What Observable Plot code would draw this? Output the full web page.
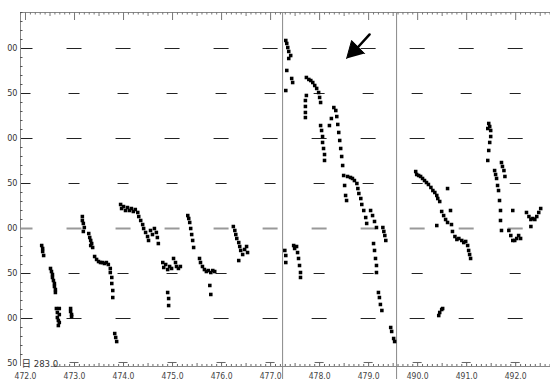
<!DOCTYPE html>
<html><head><meta charset="utf-8">
<script src="https://cdn.jsdelivr.net/npm/d3@7"></script>
<script src="https://cdn.jsdelivr.net/npm/@observablehq/plot@0.6"></script>
<style>body{margin:0;background:#fff;} #chart svg{display:block;}</style>
</head><body><div id="chart"></div>
<script>
const obsPanel1 = [
[472.33,181.1],[472.35,177.8],[472.35,174.4],[472.37,170.0],
[472.51,155.6],[472.53,152.2],[472.55,148.9],[472.55,145.6],[472.57,142.2],[472.59,138.9],[472.59,135.6],[472.61,132.2],[472.61,128.9],
[472.63,111.1],[472.69,111.1],[472.65,106.7],[472.69,104.4],[472.65,101.1],[472.67,97.8],[472.69,95.6],[472.67,92.2],
[472.92,111.1],[472.92,107.8],[472.94,104.4],[472.94,102.2],
[473.16,213.3],[473.16,208.9],[473.18,205.6],[473.20,201.1],[473.18,196.7],
[473.29,194.4],[473.31,190.0],[473.33,186.7],[473.35,183.3],[473.37,178.9],[473.33,181.1],
[473.41,168.9],[473.45,165.6],[473.49,163.3],[473.53,162.2],[473.57,162.2],[473.61,161.1],[473.65,162.2],[473.69,160.0],
[473.73,155.6],[473.73,151.1],[473.76,145.6],[473.76,138.9],[473.78,131.1],[473.78,123.3],
[473.82,83.3],[473.84,78.9],[473.86,74.4],
[473.94,226.7],[473.96,222.2],[474.00,224.4],[474.04,220.0],[474.08,223.3],[474.12,220.0],[474.16,222.2],[474.20,218.9],[474.24,221.1],[474.29,217.8],[474.31,213.3],[474.35,208.9],
[474.39,204.4],[474.41,200.0],[474.45,195.6],[474.49,191.1],[474.51,186.7],[474.55,197.8],[474.59,193.3],
[474.63,200.0],[474.67,195.6],[474.69,190.0],[474.71,183.3],
[474.80,162.2],[474.82,156.7],[474.86,160.0],[474.90,154.4],[474.94,157.8],[474.98,155.6],
[474.90,128.9],[474.92,122.2],[474.92,114.4],
[475.02,166.7],[475.06,162.2],[475.08,157.8],[475.12,155.6],[475.16,157.8],
[475.31,214.4],[475.33,211.1],[475.35,206.7],[475.37,200.0],[475.39,193.3],[475.41,186.7],[475.43,178.9],
[475.55,166.7],[475.57,162.2],[475.61,157.8],[475.65,154.4],[475.69,152.2],[475.73,153.3],[475.78,151.1],[475.82,153.3],[475.86,152.2],
[475.76,136.7],[475.78,126.7],
[476.24,202.2],[476.27,197.8],[476.29,193.3],[476.31,188.9],[476.35,184.4],[476.37,180.0],[476.39,175.6],[476.43,171.1],[476.47,176.7],[476.51,180.0],[476.53,173.3],[476.35,164.4]
];
const obsPanel2 = [
[477.31,408.9],[477.33,405.6],[477.35,401.1],[477.37,396.7],[477.41,392.2],[477.37,388.9],[477.33,375.6],[477.43,366.7],[477.45,362.2],[477.31,353.3],
[477.29,175.6],[477.31,170.0],[477.31,162.2],
[477.47,181.1],[477.49,177.8],[477.53,180.0],[477.55,173.3],[477.57,166.7],[477.59,158.9],[477.61,151.1],[477.61,145.6],
[477.73,367.8],[477.78,365.6],[477.82,364.4],[477.86,362.2],[477.90,358.9],[477.94,355.6],[477.98,351.1],[478.00,345.6],[478.02,340.0],
[477.73,347.8],[477.71,342.2],[477.71,335.6],[477.71,328.9],[477.71,323.3],
[478.02,314.4],[478.04,308.9],[478.06,302.2],[478.06,295.6],[478.08,288.9],[478.10,282.2],[478.10,275.6],
[478.20,314.4],[478.24,322.2],[478.29,334.4],[478.33,331.1],[478.35,324.4],[478.37,315.6],[478.39,306.7],[478.41,297.8],[478.43,288.9],[478.45,280.0],
[478.47,270.0],[478.49,258.9],[478.51,247.8],[478.53,236.7],[478.55,231.1],
[478.57,257.8],[478.63,256.7],[478.67,255.6],[478.71,253.3],[478.76,250.0],[478.78,244.4],[478.80,238.9],[478.84,233.3],[478.86,226.7],[478.90,220.0],[478.94,212.2],[478.96,205.6],
[479.04,220.0],[479.08,214.4],[479.12,207.8],[479.16,201.1],
[479.10,183.3],[479.12,175.6],[479.14,166.7],[479.16,158.9],[479.16,151.1],
[479.20,128.9],[479.22,123.3],[479.24,115.6],[479.27,108.9],
[479.29,201.1],[479.31,196.7],[479.33,192.2],[479.35,186.7],
[479.45,90.0],[479.47,85.6],[479.51,77.8],[479.53,74.4]
];
const obsPanel3 = [
[489.96,263.3],[489.98,260.0],[490.02,258.9],[490.06,257.8],[490.10,255.6],[490.14,253.3],[490.18,251.1],[490.22,248.9],[490.27,245.6],
[490.31,242.2],[490.35,240.0],[490.39,236.7],[490.41,233.3],[490.45,230.0],
[490.39,203.3],[490.49,218.9],[490.53,214.4],[490.57,210.0],[490.61,206.7],
[490.67,220.0],[490.69,204.4],[490.71,196.7],[490.76,191.1],[490.80,187.8],
[490.84,188.9],[490.90,186.7],[490.94,184.4],[490.98,185.6],
[491.02,181.1],[491.04,175.6],[491.06,171.1],[491.08,166.7],
[490.43,103.3],[490.45,106.7],[490.49,110.0],[490.51,111.1],
[490.61,244.4],
[491.43,311.1],[491.45,316.7],[491.47,313.3],[491.49,308.9],[491.49,302.2],[491.47,295.6],[491.45,286.7],[491.43,275.6],
[491.57,264.4],[491.59,260.0],[491.61,255.6],[491.63,247.8],
[491.71,273.3],[491.73,268.9],[491.76,264.4],[491.78,257.8],
[491.65,242.2],[491.67,231.1],[491.69,220.0],[491.69,208.9],[491.71,197.8],
[491.86,197.8],[491.90,192.2],[491.94,186.7],[491.98,186.7],[492.02,188.9],[492.06,192.2],[492.10,188.9],
[491.94,220.0],
[492.22,217.8],[492.27,213.3],[492.31,210.0],[492.35,211.1],[492.39,210.0],[492.43,213.3],[492.47,217.8],[492.51,222.2],[492.31,202.2]
];

// axes
const yLevels = [400, 350, 300, 250, 200, 150, 100, 50];
const yTickLabels = ["00", "50", "00", "50", "00", "50", "00", "50"];
const xTicks = [472, 473, 474, 475, 476, 477, 478, 479, 490, 491, 492];
const xTickLabels = ["472.0","473.0","474.0","475.0","476.0","477.0","478.0","479.0","490.0","491.0","492.0"];
const cornerLabel = "日 283.0";
const axisBreaks = [477.245, 479.57];
const arrowShaft = [[479.02, 415.6], [478.776, 401.1]];
const arrowHead = [[478.551, 388.9], [478.653, 408.9], [478.918, 394.4]];

// broken time axis: dates after the gap are shifted by 10 days onto the shared position scale
const GAP = 10, GAP_START = 485;
const pos = v => v > GAP_START ? v - GAP : v;

const X0 = 471.898, X3 = 482.71;
const Y0 = 46.67, Y1 = 440;
const pxPerX = 49, pxPerY = 0.9;
const W = 550, H = 379;

const points = [...obsPanel1, ...obsPanel2, ...obsPanel3].map(([x, y]) => ({x, y}));

// top / bottom minor ticks every 0.1 (in real dates)
const tenths = [];
for (let k = 4719; k <= 4795; k++) tenths.push(k / 10);
for (let k = 4896; k <= 4927; k++) tenths.push(k / 10);
const kind = v => { const r = Math.round(v * 10) % 10; return r === 0 ? 2 : r === 5 ? 1 : 0; };
const topLen = [2.5, 4, 8];
const topTicks = tenths.map(v => ({x: v, len: topLen[kind(v)]}));
const botLen = [2, 3, 4];
const botTicks = tenths.filter(v => v >= 472.6).map(v => ({x: v, len: botLen[kind(v)]}));
const crossbars = xTicks.filter(v => v > 472.5).map(v => ({x: v, y: Y0 + 4 / pxPerY}));

// y minor ticks every 10
const yMinor = [];
for (let v = 50; v <= 440; v += 10) if (v % 50 !== 0) yMinor.push(v);

// grid dashes at every level x every major x tick
const dashes = [];
for (const lv of yLevels.filter(v => v >= 100)) {
  const half = (lv % 100 === 0 ? 7.5 : 5.5) / pxPerX;
  for (const t of xTicks) dashes.push({y: lv, x: t, half, mid: lv === 200});
}

const font = "'DejaVu Sans Condensed','DejaVu Sans','Noto Sans CJK SC',sans-serif";

const chart = Plot.plot({
  width: W, height: H,
  marginLeft: 20, marginRight: 0, marginTop: 12, marginBottom: 13,
  x: {domain: [X0, X3], range: [20, 550], axis: null},
  y: {domain: [Y0, Y1], range: [366, 12], axis: null},
  marks: [
    // grid dashes
    Plot.ruleY(dashes.filter(d => !d.mid), {y: "y", x1: d => Math.max(X0, pos(d.x) - d.half), x2: d => pos(d.x) + d.half, stroke: "#222", strokeWidth: 1}),
    Plot.ruleY(dashes.filter(d => d.mid), {y: "y", x1: d => Math.max(X0, pos(d.x) - d.half), x2: d => pos(d.x) + d.half, stroke: "#999", strokeWidth: 2}),
    // frame: top line, left spine, bottom baseline
    Plot.ruleY([Y1], {x1: X0, x2: X3, stroke: "#888"}),
    Plot.ruleX([X0], {y1: Y0, y2: Y1, stroke: "#888"}),
    Plot.ruleY([Y0], {x1: 472.55, x2: X3, stroke: "#888"}),
    // axis breaks
    Plot.ruleX(axisBreaks, {x: d => d, y1: Y0 - 14 / pxPerY, y2: Y1, stroke: "#888"}),
    // top ticks
    Plot.ruleX(topTicks, {x: d => pos(d.x), y1: Y1, y2: d => Y1 - d.len / pxPerY, stroke: "#777"}),
    // bottom ticks
    Plot.ruleX(botTicks, {x: d => pos(d.x), y1: Y0, y2: d => Y0 + d.len / pxPerY, stroke: "#666"}),
    Plot.ruleY(crossbars, {y: "y", x1: d => pos(d.x) - 4.5 / pxPerX, x2: d => pos(d.x) + 4.5 / pxPerX, stroke: "#666"}),
    // y minor ticks
    Plot.ruleY(yMinor, {x1: X0, x2: X0 + 2.5 / pxPerX, stroke: "#555"}),
    // y labels
    Plot.text(yLevels, {x: X0, y: d => d, text: (d, i) => yTickLabels[i], textAnchor: "end", dx: -3, fontSize: 9, fontFamily: font, fill: "#333"}),
    // x labels
    Plot.text(xTicks, {x: d => pos(d), y: Y0, text: (d, i) => xTickLabels[i], textAnchor: "middle", lineAnchor: "bottom", dy: 12, fontSize: 8.5, fontFamily: font, fill: "#444"}),
    Plot.text([cornerLabel], {x: X0, y: Y0, text: d => d, textAnchor: "start", dx: 1, dy: -3, fontSize: 9.5, fontFamily: font, fill: "#333"}),
    // data
    Plot.dot(points, {x: d => pos(d.x), y: "y", symbol: "square", r: 2, fill: "#000", stroke: "none"}),
    // arrow
    Plot.line(arrowShaft, {x: d => d[0], y: d => d[1], stroke: "#000", strokeWidth: 2.5}),
    Plot.line(arrowHead, {x: d => d[0], y: d => d[1], stroke: "#000", fill: "#000", strokeWidth: 1})
  ]
});
document.getElementById("chart").appendChild(chart);
</script>
</body></html>
